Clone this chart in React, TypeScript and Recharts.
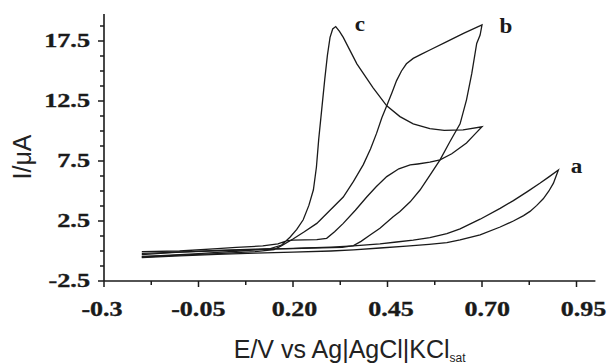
import React from 'react';
import { LineChart, Line, XAxis, YAxis, ReferenceDot, Label } from 'recharts';

// E in V, I in µA (forward sweep then reverse)
const curveA = [
  { e: -0.2, i: -0.55 }, { e: -0.1, i: -0.4 }, { e: 0.0, i: -0.28 }, { e: 0.1, i: -0.18 },
  { e: 0.2, i: -0.1 }, { e: 0.3, i: 0.0 }, { e: 0.36, i: 0.1 }, { e: 0.43, i: 0.25 },
  { e: 0.5, i: 0.4 }, { e: 0.56, i: 0.55 }, { e: 0.607, i: 0.7 }, { e: 0.642, i: 0.92 },
  { e: 0.695, i: 1.35 }, { e: 0.748, i: 2.0 }, { e: 0.783, i: 2.5 }, { e: 0.81, i: 2.95 },
  { e: 0.827, i: 3.3 }, { e: 0.845, i: 3.8 }, { e: 0.862, i: 4.35 }, { e: 0.877, i: 5.0 },
  { e: 0.889, i: 5.65 }, { e: 0.902, i: 6.75 },
  { e: 0.878, i: 6.2 }, { e: 0.853, i: 5.64 }, { e: 0.82, i: 4.95 }, { e: 0.783, i: 4.2 },
  { e: 0.748, i: 3.55 }, { e: 0.695, i: 2.65 }, { e: 0.642, i: 1.85 }, { e: 0.607, i: 1.45 },
  { e: 0.562, i: 1.12 }, { e: 0.518, i: 0.9 }, { e: 0.474, i: 0.75 }, { e: 0.43, i: 0.6 },
  { e: 0.36, i: 0.42 }, { e: 0.3, i: 0.32 }, { e: 0.2, i: 0.22 }, { e: 0.1, i: 0.12 },
  { e: 0.0, i: 0.02 }, { e: -0.1, i: -0.1 }, { e: -0.2, i: -0.2 },
];

const curveB = [
  { e: -0.2, i: -0.5 }, { e: -0.1, i: -0.35 }, { e: 0.0, i: -0.22 }, { e: 0.1, i: -0.05 },
  { e: 0.15, i: 0.12 }, { e: 0.17, i: 0.45 }, { e: 0.2, i: 1.0 }, { e: 0.23, i: 1.6 },
  { e: 0.263, i: 2.3 }, { e: 0.298, i: 3.4 }, { e: 0.333, i: 4.5 }, { e: 0.36, i: 5.8 },
  { e: 0.386, i: 7.2 }, { e: 0.405, i: 8.5 }, { e: 0.421, i: 9.8 }, { e: 0.435, i: 11.1 },
  { e: 0.448, i: 12.1 }, { e: 0.462, i: 13.2 }, { e: 0.474, i: 14.2 }, { e: 0.487, i: 15.0 },
  { e: 0.5, i: 15.6 }, { e: 0.518, i: 16.05 }, { e: 0.54, i: 16.4 }, { e: 0.562, i: 16.75 },
  { e: 0.607, i: 17.45 }, { e: 0.651, i: 18.14 }, { e: 0.7, i: 18.85 },
  { e: 0.695, i: 18.0 }, { e: 0.686, i: 17.3 }, { e: 0.673, i: 14.8 }, { e: 0.659, i: 12.6 },
  { e: 0.642, i: 10.6 }, { e: 0.615, i: 9.1 }, { e: 0.589, i: 7.6 }, { e: 0.562, i: 6.3 },
  { e: 0.536, i: 5.08 }, { e: 0.51, i: 4.1 }, { e: 0.483, i: 3.3 }, { e: 0.465, i: 2.86 },
  { e: 0.43, i: 1.9 }, { e: 0.404, i: 1.33 }, { e: 0.38, i: 0.8 }, { e: 0.36, i: 0.45 },
  { e: 0.33, i: 0.3 }, { e: 0.25, i: 0.25 }, { e: 0.2, i: 0.2 }, { e: 0.1, i: 0.15 },
  { e: 0.0, i: 0.05 }, { e: -0.1, i: -0.1 }, { e: -0.2, i: -0.3 },
];

const curveC = [
  { e: -0.2, i: -0.45 }, { e: -0.15, i: -0.38 }, { e: -0.1, i: -0.3 }, { e: -0.05, i: -0.22 },
  { e: 0.0, i: -0.12 }, { e: 0.05, i: -0.02 }, { e: 0.1, i: 0.1 }, { e: 0.14, i: 0.2 },
  { e: 0.17, i: 0.5 }, { e: 0.192, i: 1.15 }, { e: 0.21, i: 1.8 }, { e: 0.227, i: 2.6 },
  { e: 0.242, i: 3.8 }, { e: 0.254, i: 5.1 }, { e: 0.262, i: 7.0 }, { e: 0.268, i: 9.3 },
  { e: 0.276, i: 11.8 }, { e: 0.284, i: 14.3 }, { e: 0.291, i: 16.3 }, { e: 0.298, i: 17.8 },
  { e: 0.305, i: 18.5 }, { e: 0.313, i: 18.7 },
  { e: 0.323, i: 18.3 }, { e: 0.333, i: 17.8 }, { e: 0.351, i: 16.7 }, { e: 0.369, i: 15.6 },
  { e: 0.386, i: 14.8 }, { e: 0.412, i: 13.6 }, { e: 0.448, i: 12.1 }, { e: 0.483, i: 11.2 },
  { e: 0.518, i: 10.6 }, { e: 0.562, i: 10.2 }, { e: 0.6, i: 10.05 }, { e: 0.65, i: 10.1 },
  { e: 0.7, i: 10.35 },
  { e: 0.68, i: 9.7 }, { e: 0.659, i: 9.0 }, { e: 0.62, i: 8.1 }, { e: 0.589, i: 7.6 },
  { e: 0.562, i: 7.4 }, { e: 0.53, i: 7.25 }, { e: 0.51, i: 7.17 }, { e: 0.48, i: 6.85 },
  { e: 0.448, i: 6.2 }, { e: 0.42, i: 5.35 }, { e: 0.395, i: 4.5 }, { e: 0.365, i: 3.4 },
  { e: 0.333, i: 2.3 }, { e: 0.31, i: 1.6 }, { e: 0.289, i: 1.06 }, { e: 0.263, i: 0.95 },
  { e: 0.23, i: 0.93 }, { e: 0.2, i: 0.9 }, { e: 0.183, i: 0.85 }, { e: 0.16, i: 0.6 },
  { e: 0.12, i: 0.42 }, { e: 0.05, i: 0.3 }, { e: 0.0, i: 0.2 }, { e: -0.1, i: 0.0 },
  { e: -0.2, i: -0.05 },
];

const xMajorTicks = [-0.3, -0.05, 0.2, 0.45, 0.7, 0.95];
const xTickLabels = ['-0.3', '-0.05', '0.20', '0.45', '0.70', '0.95'];
const xMinorTicks = [-0.175, 0.075, 0.325, 0.575, 0.825];
const yMajorTicks = [-2.5, 2.5, 7.5, 12.5, 17.5];
const yTickLabels = ['-2.5', '2.5', '7.5', '12.5', '17.5'];
const yMinorTicks = [-1.25, 0, 1.25, 3.75, 5, 6.25, 8.75, 10, 11.25, 13.75, 15, 16.25, 18.75];

const curveTags = [
  { name: 'a', e: 0.95, i: 6.5 },
  { name: 'b', e: 0.763, i: 18.2 },
  { name: 'c', e: 0.377, i: 18.3 },
];

const INK = '#1a1a1a';
const SERIF = "'Liberation Serif', 'Times New Roman', serif";
const SANS = "'Liberation Sans', Arial, sans-serif";

const XTick = (props: any) => {
  const { x, y, payload } = props;
  const idx = xMajorTicks.indexOf(payload.value);
  const major = idx >= 0;
  return (
    <g>
      <line x1={x} x2={x} y1={y} y2={y + (major ? 6 : 4)} stroke={INK} strokeWidth={1.5} />
      {major && (
        <text
          transform={`translate(${x - 2 + idx * 1.8},${y + 35}) scale(1.24,1)`}
          textAnchor="middle"
          fontFamily={SERIF}
          fontWeight="bold"
          fontSize={21}
          fill={INK}
          stroke={INK}
          strokeWidth={0.35}
        >
          {xTickLabels[idx]}
        </text>
      )}
    </g>
  );
};

const YTick = (props: any) => {
  const { x, y, payload } = props;
  const idx = yMajorTicks.indexOf(payload.value);
  const major = idx >= 0;
  return (
    <g>
      <line x1={x} x2={x - (major ? 6 : 4)} y1={y} y2={y} stroke={INK} strokeWidth={1.5} />
      {major && (
        <text
          transform={`translate(${x - 14},${y + 6}) scale(1.38,1)`}
          textAnchor="end"
          fontFamily={SERIF}
          fontWeight="bold"
          fontSize={19}
          fill={INK}
          stroke={INK}
          strokeWidth={0.35}
        >
          {yTickLabels[idx]}
        </text>
      )}
    </g>
  );
};

const XTitle = (props: any) => {
  const { x, y, width } = props.viewBox;
  return (
    <text x={x + width / 2} y={y + 77} textAnchor="middle" fontFamily={SANS} fontSize={25} fill="#222">
      E/V vs Ag|AgCl|KCl
      <tspan fontSize={12} dy={4}>sat</tspan>
    </text>
  );
};

const YTitle = () => (
  <text
    transform="translate(31,157) rotate(-90)"
    textAnchor="middle"
    fontFamily={SANS}
    fontSize={25}
    fill="#222"
  >
    I/μA
  </text>
);

const TagShape = (name: string) => (props: any) => (
  <text
    transform={`translate(${props.cx},${props.cy}) scale(1.1,1)`}
    textAnchor="middle"
    fontFamily={SERIF}
    fontWeight="bold"
    fontSize={21}
    fill={INK}
  >
    {name}
  </text>
);

export default function App() {
  const xTicks = [...xMajorTicks, ...xMinorTicks].sort((a, b) => a - b);
  const yTicks = [...yMajorTicks, ...yMinorTicks].sort((a, b) => a - b);
  return (
    <div style={{ position: 'absolute', left: 0, top: 0, background: '#fff' }}>
      <LineChart width={608} height={364} margin={{ top: 14, right: 12.6, left: 0, bottom: 0 }}>
        <XAxis
          type="number"
          dataKey="e"
          domain={[-0.3, 1.0]}
          ticks={xTicks}
          interval={0}
          tick={<XTick />}
          tickLine={false}
          tickSize={0}
          tickMargin={0}
          height={83}
          axisLine={{ stroke: INK, strokeWidth: 1.6 }}
        >
          <Label content={XTitle} />
        </XAxis>
        <YAxis
          type="number"
          domain={[-2.5, 19.75]}
          ticks={yTicks}
          interval={0}
          tick={<YTick />}
          tickLine={false}
          tickSize={0}
          tickMargin={0}
          width={104}
          axisLine={{ stroke: INK, strokeWidth: 1.6 }}
        >
          <Label content={YTitle} />
        </YAxis>
        <Line data={curveA} dataKey="i" type="linear" stroke={INK} strokeWidth={1.3} dot={false} isAnimationActive={false} />
        <Line data={curveB} dataKey="i" type="linear" stroke={INK} strokeWidth={1.3} dot={false} isAnimationActive={false} />
        <Line data={curveC} dataKey="i" type="linear" stroke={INK} strokeWidth={1.3} dot={false} isAnimationActive={false} />
        {curveTags.map((t) => (
          <ReferenceDot key={t.name} x={t.e} y={t.i} r={0} shape={TagShape(t.name)} />
        ))}
      </LineChart>
    </div>
  );
}
